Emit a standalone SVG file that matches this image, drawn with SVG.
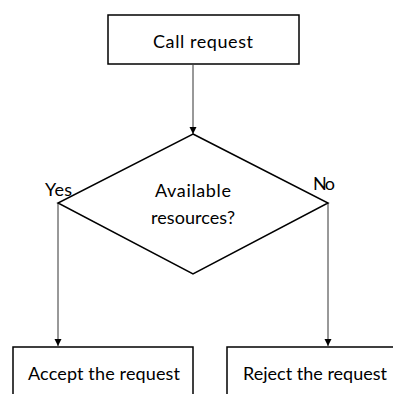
<svg xmlns="http://www.w3.org/2000/svg" width="393" height="394" viewBox="0 0 393 394">
<defs>
<style>
.box{fill:#fff;stroke:#000;stroke-width:1.5}
.t{font-family:Lato,"Liberation Sans",sans-serif;font-size:18px;fill:#000}
.c{fill:none;stroke:#333;stroke-width:1}
</style>
<marker id="ah" markerWidth="8" markerHeight="8" refX="7" refY="4" orient="auto" markerUnits="userSpaceOnUse">
<path d="M0,0.5 L7,4 L0,7.5 Z" fill="#000"/>
</marker>
</defs>
<rect width="393" height="394" fill="#fff"/>
<g id="connectors">
<line class="c" x1="193" y1="65" x2="193" y2="134" marker-end="url(#ah)"/>
<line class="c" x1="58" y1="203" x2="58" y2="346" marker-end="url(#ah)"/>
<line class="c" x1="328" y1="203" x2="328" y2="346" marker-end="url(#ah)"/>
</g>
<g id="call-request">
<rect class="box" x="108" y="15" width="191" height="49"/>
<text class="t" x="203" y="48" text-anchor="middle" textLength="100">Call request</text>
</g>
<g id="decision">
<polygon class="box" points="193,134 328,203 193,274 58,203"/>
<text class="t" x="193" y="197" text-anchor="middle" textLength="76">Available</text>
<text class="t" x="193" y="224" text-anchor="middle" textLength="84">resources?</text>
</g>
<g id="labels">
<text class="t" x="45" y="196" textLength="27">Yes</text>
<text class="t" x="313" y="190" textLength="22">No</text>
</g>
<g id="accept">
<rect class="box" x="13" y="347" width="180" height="60"/>
<text class="t" x="28" y="380" textLength="152">Accept the request</text>
</g>
<g id="reject">
<rect class="box" x="227" y="347" width="180" height="60"/>
<text class="t" x="243" y="380" textLength="144">Reject the request</text>
</g>
</svg>
